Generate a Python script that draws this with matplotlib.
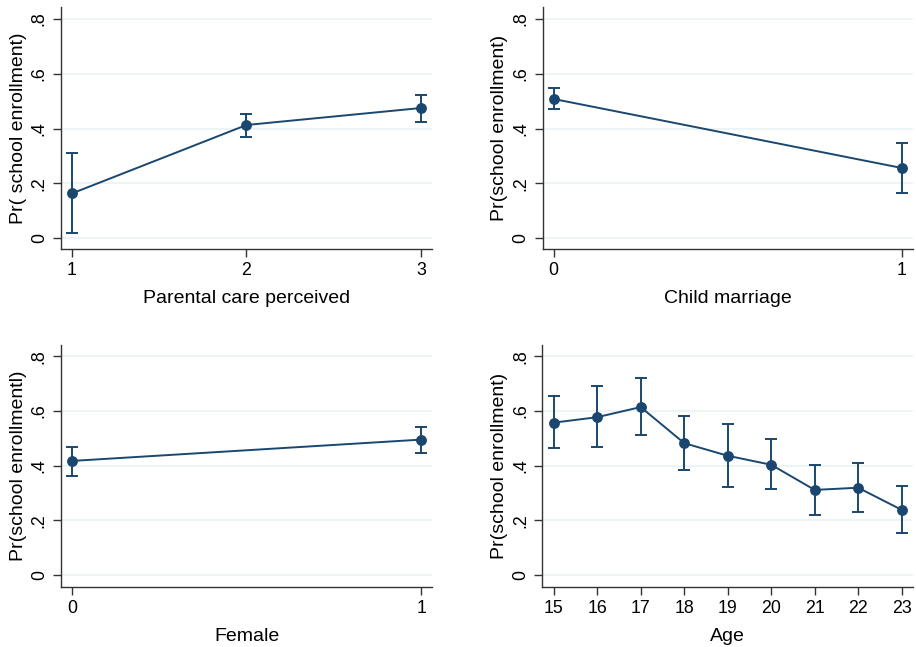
import matplotlib
matplotlib.use('Agg')
import matplotlib.pyplot as plt

plt.rcParams['font.family'] = ['Liberation Sans', 'DejaVu Sans']

# Parental care perceived
care_x = [1, 2, 3]
care_p = [0.163, 0.413, 0.475]
care_lo = [0.017, 0.369, 0.424]
care_hi = [0.312, 0.454, 0.523]

# Child marriage
marr_x = [0, 1]
marr_p = [0.508, 0.256]
marr_lo = [0.471, 0.165]
marr_hi = [0.549, 0.349]

# Female
fem_x = [0, 1]
fem_p = [0.417, 0.495]
fem_lo = [0.363, 0.445]
fem_hi = [0.469, 0.541]

# Age
age_x = [15, 16, 17, 18, 19, 20, 21, 22, 23]
age_p = [0.557, 0.577, 0.614, 0.482, 0.436, 0.403, 0.311, 0.319, 0.238]
age_lo = [0.463, 0.469, 0.511, 0.383, 0.322, 0.313, 0.218, 0.229, 0.155]
age_hi = [0.655, 0.690, 0.719, 0.582, 0.552, 0.499, 0.402, 0.411, 0.327]

y_ticks = [0, 0.2, 0.4, 0.6, 0.8]
y_ticklabels = ['0', '.2', '.4', '.6', '.8']

NAVY = '#1a476f'
GRID = '#eaf2f3'

fig = plt.figure(figsize=(9.16, 6.47), dpi=100)

panels = [
    # (rect, x, p, lo, hi, xlim, ylim, xlabel, ylabel)
    ([61/916, 1-249/647, (432-61)/916, (249-7)/647], care_x, care_p, care_lo, care_hi,
     (0.937, 3.063), (-0.040, 0.844), 'Parental care perceived', 'Pr( school enrollment)'),
    ([542.7/916, 1-249/647, (912.7-542.7)/916, (249-7)/647], marr_x, marr_p, marr_lo, marr_hi,
     (-0.0316, 1.0316), (-0.040, 0.844), 'Child marriage', 'Pr(school enrollment)'),
    ([61/916, 1-586.7/647, (432.3-61)/916, (586.7-345)/647], fem_x, fem_p, fem_lo, fem_hi,
     (-0.0316, 1.0316), (-0.043, 0.841), 'Female', 'Pr(school enrollmentl)'),
    ([542.3/916, 1-586.7/647, (913-542.3)/916, (586.7-345)/647], age_x, age_p, age_lo, age_hi,
     (14.738, 23.26), (-0.043, 0.841), 'Age', 'Pr(school enrollment)'),
]

for rect, x, p, lo, hi, xlim, ylim, xlab, ylab in panels:
    ax = fig.add_axes(rect)
    for yt in y_ticks:
        ax.axhline(yt, color=GRID, lw=1.2, zorder=0)
    yerr = [[pi - l for pi, l in zip(p, lo)], [h - pi for pi, h in zip(p, hi)]]
    ax.errorbar(x, p, yerr=yerr, fmt='none', ecolor=NAVY, elinewidth=1.4,
                capsize=4.5, capthick=1.4, zorder=2)
    ax.plot(x, p, color=NAVY, lw=1.4, marker='o', markersize=6.8, zorder=3)
    ax.set_xlim(*xlim)
    ax.set_ylim(*ylim)
    ax.set_xticks(x)
    ax.set_xticklabels([str(v) for v in x], fontsize=12.8)
    ax.set_yticks(y_ticks)
    ax.set_yticklabels(y_ticklabels, fontsize=12.8, rotation=90, va='center')
    ax.tick_params(axis='both', length=5.5, width=1, color='#333333', pad=4)
    ax.spines['top'].set_visible(False)
    ax.spines['right'].set_visible(False)
    for s in ('left', 'bottom'):
        ax.spines[s].set_color('#333333')
        ax.spines[s].set_linewidth(1.0)
    ax.set_xlabel(xlab, fontsize=14, labelpad=8)
    ax.set_ylabel(ylab, fontsize=14, labelpad=3)

fig.savefig('out.png', dpi=100)
